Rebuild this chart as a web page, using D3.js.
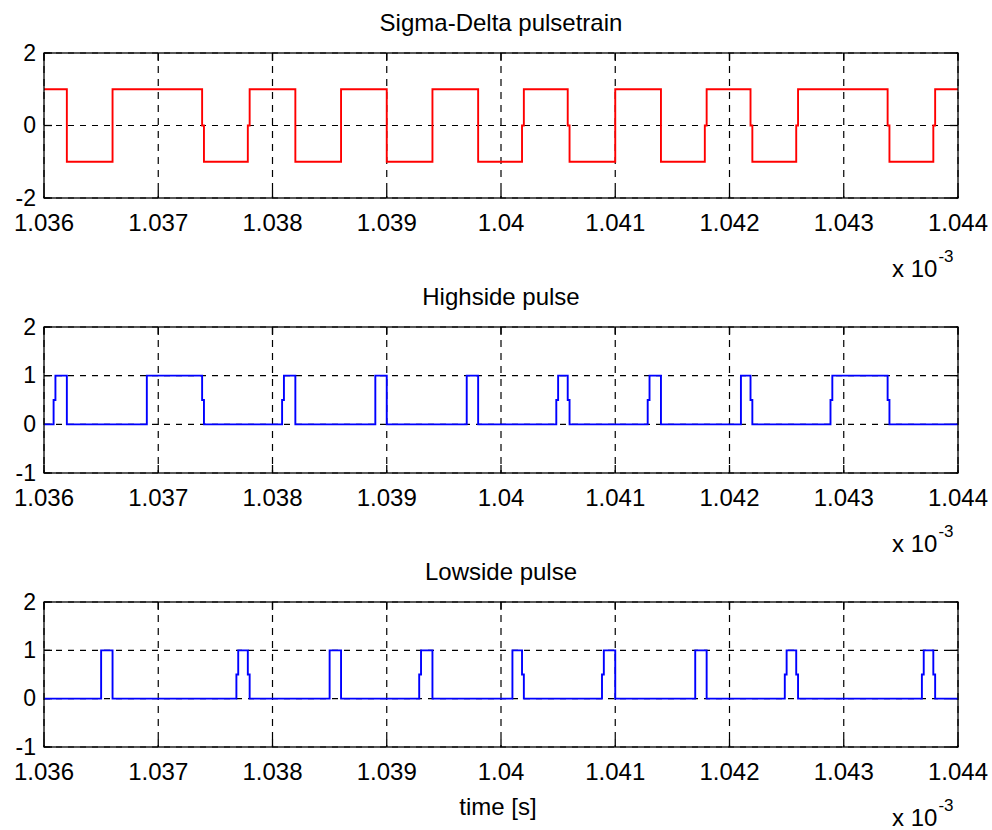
<!DOCTYPE html>
<html><head><meta charset="utf-8">
<script src="https://cdn.jsdelivr.net/npm/d3@7/dist/d3.min.js"></script>
<style>
body{margin:0;background:#fff}
text{font-family:"Liberation Sans",Arial,Helvetica,sans-serif;fill:#000}
</style>
</head><body>
<svg id="c" width="992" height="830"></svg>
<script>
// ---------- data (time in units of 1e-3 s) ----------
const xTicks = [1.036,1.037,1.038,1.039,1.040,1.041,1.042,1.043,1.044];
const xTickLabels = ["1.036","1.037","1.038","1.039","1.04","1.041","1.042","1.043","1.044"];
const titles = ["Sigma-Delta pulsetrain","Highside pulse","Lowside pulse"];
const yDomains = [[-2,2],[-1,2],[-1,2]];
const yTicks = [[-2,0,2],[-1,0,1,2],[-1,0,1,2]];
const yTickLabels = [["-2","0","2"],["-1","0","1","2"],["-1","0","1","2"]];

// Sigma-Delta pulsetrain: start level, edge times, level after edge, edge drawn with a half-way step
const sigmaStart = 1;
const sigmaEdges  = [1.0362,1.0366,1.0374,1.0378,1.0382,1.0386,1.0390,1.0394,1.0398,1.0402,1.0406,1.0410,1.0414,1.0418,1.0422,1.0426,1.0434,1.0438];
const sigmaLevels = [-1,1,-1,1,-1,1,-1,1,-1,1,-1,1,-1,1,-1,1,-1,1];
const sigmaSplit  = [0,0,1,1,0,0,0,0,0,1,1,0,0,1,1,1,1,1];

// Highside pulse
const highStart = 0;
const highEdges  = [1.0361,1.0362,1.0369,1.0374,1.0381,1.0382,1.0389,1.0390,1.0397,1.0398,1.0405,1.0406,1.0413,1.0414,1.0421,1.0422,1.0429,1.0434];
const highLevels = [1,0,1,0,1,0,1,0,1,0,1,0,1,0,1,0,1,0];
const highSplit  = [1,0,0,1,1,0,0,0,0,0,1,1,1,0,0,1,1,1];

// Lowside pulse
const lowStart = 0;
const lowEdges  = [1.0365,1.0366,1.0377,1.0378,1.0385,1.0386,1.0393,1.0394,1.0401,1.0402,1.0409,1.0410,1.0417,1.0418,1.0425,1.0426,1.0437,1.0438];
const lowLevels = [1,0,1,0,1,0,1,0,1,0,1,0,1,0,1,0,1,0];
const lowSplit  = [0,0,1,1,0,0,1,0,0,1,1,0,0,0,1,1,1,1];

const tStart = 1.036, tEnd = 1.044;

// ---------- layout ----------
const svg = d3.select("#c");
const left = 44, right = 958;
const panels = [
  {top:53,  bottom:198, color:"#ff0000", start:sigmaStart, edges:sigmaEdges, levels:sigmaLevels, split:sigmaSplit},
  {top:327, bottom:473, color:"#0000ff", start:highStart,  edges:highEdges,  levels:highLevels,  split:highSplit},
  {top:602, bottom:747, color:"#0000ff", start:lowStart,   edges:lowEdges,   levels:lowLevels,   split:lowSplit}
];
const jog = 0.000016;
const x = d3.scaleLinear().domain([tStart,tEnd]).range([left,right]);

function vertices(p){
  const pts = [[tStart,p.start]];
  let prev = p.start;
  p.edges.forEach((t,i)=>{
    const nxt = p.levels[i];
    if(p.split[i]){
      const mid = (prev+nxt)/2;
      pts.push([t-jog,prev],[t-jog,mid],[t,mid],[t,nxt]);
    } else {
      pts.push([t,prev],[t,nxt]);
    }
    prev = nxt;
  });
  pts.push([tEnd,prev]);
  return pts;
}

panels.forEach((p,k)=>{
  const y = d3.scaleLinear().domain(yDomains[k]).range([p.bottom,p.top]);
  const g = svg.append("g");

  // grid
  g.append("g").selectAll("line").data(xTicks).join("line")
    .attr("x1",d=>x(d)).attr("x2",d=>x(d)).attr("y1",p.top).attr("y2",p.bottom)
    .attr("stroke","#000").attr("stroke-width",1.2).attr("stroke-dasharray","7,6");
  g.append("g").selectAll("line").data(yTicks[k]).join("line")
    .attr("y1",d=>y(d)).attr("y2",d=>y(d)).attr("x1",left).attr("x2",right)
    .attr("stroke","#000").attr("stroke-width",1.2).attr("stroke-dasharray","6,6");

  // ticks (inward, all four sides)
  const tl = 8;
  const tg = g.append("g").attr("stroke","#000").attr("stroke-width",1.3);
  xTicks.forEach(d=>{
    tg.append("line").attr("x1",x(d)).attr("x2",x(d)).attr("y1",p.bottom).attr("y2",p.bottom-tl);
    tg.append("line").attr("x1",x(d)).attr("x2",x(d)).attr("y1",p.top).attr("y2",p.top+tl);
  });
  yTicks[k].forEach(d=>{
    tg.append("line").attr("y1",y(d)).attr("y2",y(d)).attr("x1",left).attr("x2",left+tl);
    tg.append("line").attr("y1",y(d)).attr("y2",y(d)).attr("x1",right).attr("x2",right-tl);
  });

  // signal
  const line = d3.line().x(d=>x(d[0])).y(d=>y(d[1]));
  g.append("path").datum(vertices(p)).attr("d",line)
    .attr("fill","none").attr("stroke",p.color).attr("stroke-width",1.9)
    .attr("stroke-linejoin","miter");

  // box
  g.append("rect").attr("x",left).attr("y",p.top).attr("width",right-left).attr("height",p.bottom-p.top)
    .attr("fill","none").attr("stroke","#000").attr("stroke-width",1.3);

  // tick labels
  g.append("g").selectAll("text").data(xTicks).join("text")
    .attr("x",d=>x(d)).attr("y",p.bottom+33).attr("text-anchor","middle")
    .style("font-size","24px").text((d,i)=>xTickLabels[i]);
  g.append("g").selectAll("text").data(yTicks[k]).join("text")
    .attr("x",left-8).attr("y",d=>y(d)).attr("dy","0.34em").attr("text-anchor","end")
    .style("font-size","23px").text((d,i)=>yTickLabels[k][i]);

  // title
  g.append("text").attr("x",(left+right)/2).attr("y",p.top-22).attr("text-anchor","middle")
    .style("font-size","24px").text(titles[k]);

  // exponent
  const ex = g.append("text").attr("x",892).attr("y",p.bottom+79).style("font-size","24px");
  ex.append("tspan").text("x 10");
  ex.append("tspan").attr("dy",-15).attr("dx",1).style("font-size","17px").text("-3");
});

svg.append("text").attr("x",498).attr("y",815).attr("text-anchor","middle")
  .style("font-size","24px").text("time [s]");
</script>
</body></html>
